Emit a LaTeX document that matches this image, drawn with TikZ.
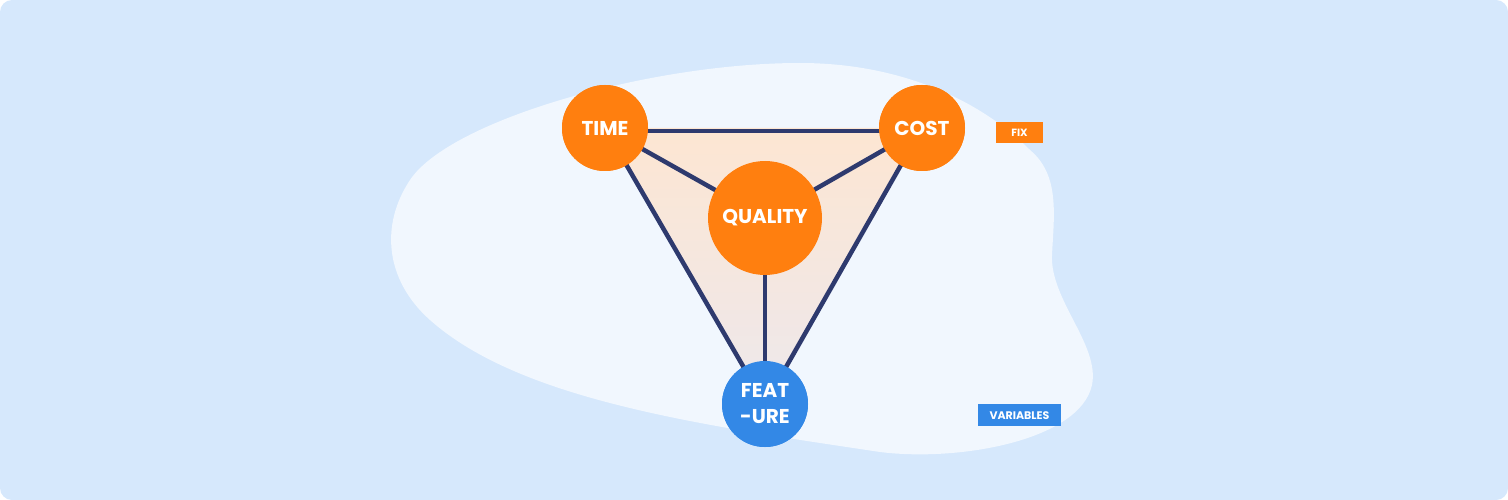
\documentclass[tikz,border=0pt]{standalone}
\usepackage{fontspec}
\setmainfont{Poppins}
\definecolor{bgblue}{HTML}{D6E8FC}
\definecolor{blob}{HTML}{F1F7FE}
\definecolor{org}{HTML}{FF7F0F}
\definecolor{blu}{HTML}{3388E6}
\definecolor{navy}{HTML}{2E3A6E}
\definecolor{peach}{HTML}{FDE6D2}
\definecolor{peachlow}{HTML}{EDE8EC}
\begin{document}
\begin{tikzpicture}[x=1pt,y=-1pt,
  circ/.style={circle,fill=org,text=white,font=\bfseries\fontsize{20}{26}\selectfont,inner sep=0pt,align=center},
  link/.style={navy,line width=4.5pt},
  tag/.style={text=white,inner sep=0pt,anchor=center}]
\useasboundingbox (0,0) rectangle (1508,500);
\fill[bgblue,rounded corners=12pt] (0,0) rectangle (1508,500);
% blob
\fill[blob] (800,63) .. controls (650,63) and (450,120) .. (410,180)
  .. controls (380,225) and (385,280) .. (430,320)
  .. controls (520,400) and (700,425) .. (880,452)
  .. controls (960,462) and (1080,440) .. (1092,385)
  .. controls (1100,345) and (1050,300) .. (1052,255)
  .. controls (1054,215) and (1060,175) .. (1030,150)
  .. controls (980,100) and (900,63) .. (800,63) -- cycle;
% node positions
\node[circ,minimum size=86pt] (time) at (605,128) {};
\node[circ,minimum size=86pt] (cost) at (922,128) {};
\node[circ,minimum size=114pt] (qual) at (765,218) {};
\node[circ,fill=blu,minimum size=86pt] (feat) at (765,404) {};
% triangle shading
\shade[top color=peach,bottom color=peachlow] (time.center) -- (cost.center) -- (feat.center) -- cycle;
% links
\draw[link] ([yshift=-3pt]time.center) -- ([yshift=-3pt]cost.center);
\draw[link] (time.center) -- (feat.center);
\draw[link] (cost.center) -- (feat.center);
\draw[link] (time.center) -- (qual.center);
\draw[link] (cost.center) -- (qual.center);
\draw[link] (qual.center) -- (feat.center);
% circles on top
\node[circ,minimum size=86pt] at (time.center) {TIME};
\node[circ,minimum size=86pt] at (cost.center) {COST};
\node[circ,minimum size=114pt] at (qual.center) {QUALITY};
\node[circ,fill=blu,minimum size=86pt] at (feat.center) {FEAT\\-URE};
% tags
\fill[org] (996,122) rectangle (1043,143);
\node[tag,font=\bfseries\fontsize{10.5}{12}\selectfont] (fix) at (1019.5,133) {FIX};
\fill[blu] (978,404) rectangle (1061,426);
\node[tag,font=\bfseries\fontsize{11}{12}\selectfont] (var) at (1019.5,415.5) {VARIABLES};
\end{tikzpicture}
\end{document}
